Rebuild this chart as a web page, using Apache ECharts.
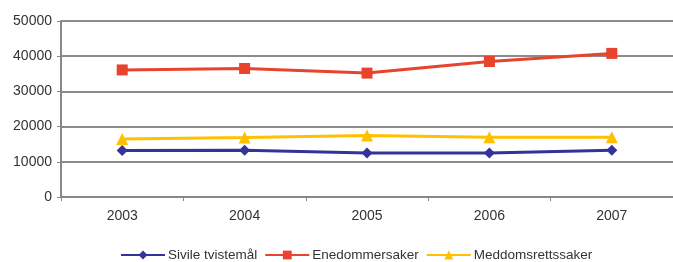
<!DOCTYPE html>
<html>
<head>
<meta charset="utf-8">
<script src="https://cdn.jsdelivr.net/npm/echarts@6/dist/echarts.min.js"></script>
<style>
  html, body { margin: 0; padding: 0; background: #fff; }
  #main { width: 673px; height: 262px; }
</style>
</head>
<body>
<div id="main"></div>
<script>
// år og verdier lest av figuren
const years = ['2003', '2004', '2005', '2006', '2007'];
const sivile = [13200, 13300, 12500, 12500, 13300];
const enedommer = [36100, 36500, 35200, 38500, 40800];
const meddom = [16500, 16900, 17500, 17000, 17000];
const yTicks = [0, 10000, 20000, 30000, 40000, 50000];

const chart = echarts.init(document.getElementById('main'));

const mkSeries = (name, data, color, symbol, size) => ({
  name,
  type: 'line',
  data,
  symbol,
  symbolSize: size,
  lineStyle: { color, width: 3 },
  itemStyle: { color },
  emphasis: { disabled: true },
});

chart.setOption({
  animation: false,
  textStyle: { fontFamily: 'Liberation Sans, Arial, sans-serif' },
  grid: { left: 61, right: -5, top: 21, bottom: 65 },
  legend: {
    top: 243,
    left: 115,
    itemWidth: 44,
    itemHeight: 11,
    itemGap: 7,
    textStyle: { color: '#333', fontSize: 13.5, padding: [0, 0, 0, -2] },
    data: ['Sivile tvistemål', 'Enedommersaker', 'Meddomsrettssaker'],
  },
  xAxis: {
    type: 'category',
    data: years,
    boundaryGap: true,
    axisLine: { lineStyle: { color: '#888', width: 2 } },
    axisTick: { show: true, length: 4, lineStyle: { color: '#888' } },
    axisLabel: { color: '#333', fontSize: 14, margin: 12 },
  },
  yAxis: {
    type: 'value',
    min: yTicks[0],
    max: yTicks[yTicks.length - 1],
    interval: 10000,
    axisLine: { show: true, lineStyle: { color: '#888', width: 2 } },
    axisTick: { show: true, length: 4, lineStyle: { color: '#888' } },
    axisLabel: { color: '#333', fontSize: 14, margin: 9, formatter: v => String(v) },
    splitLine: { lineStyle: { color: '#8c8c8c', width: 2 } },
  },
  series: [
    mkSeries('Sivile tvistemål', sivile, '#333399', 'diamond', 11),
    mkSeries('Enedommersaker', enedommer, '#e8432c', 'rect', 11),
    mkSeries('Meddomsrettssaker', meddom, '#ffc000', 'triangle', 12),
  ],
});
</script>
</body>
</html>
